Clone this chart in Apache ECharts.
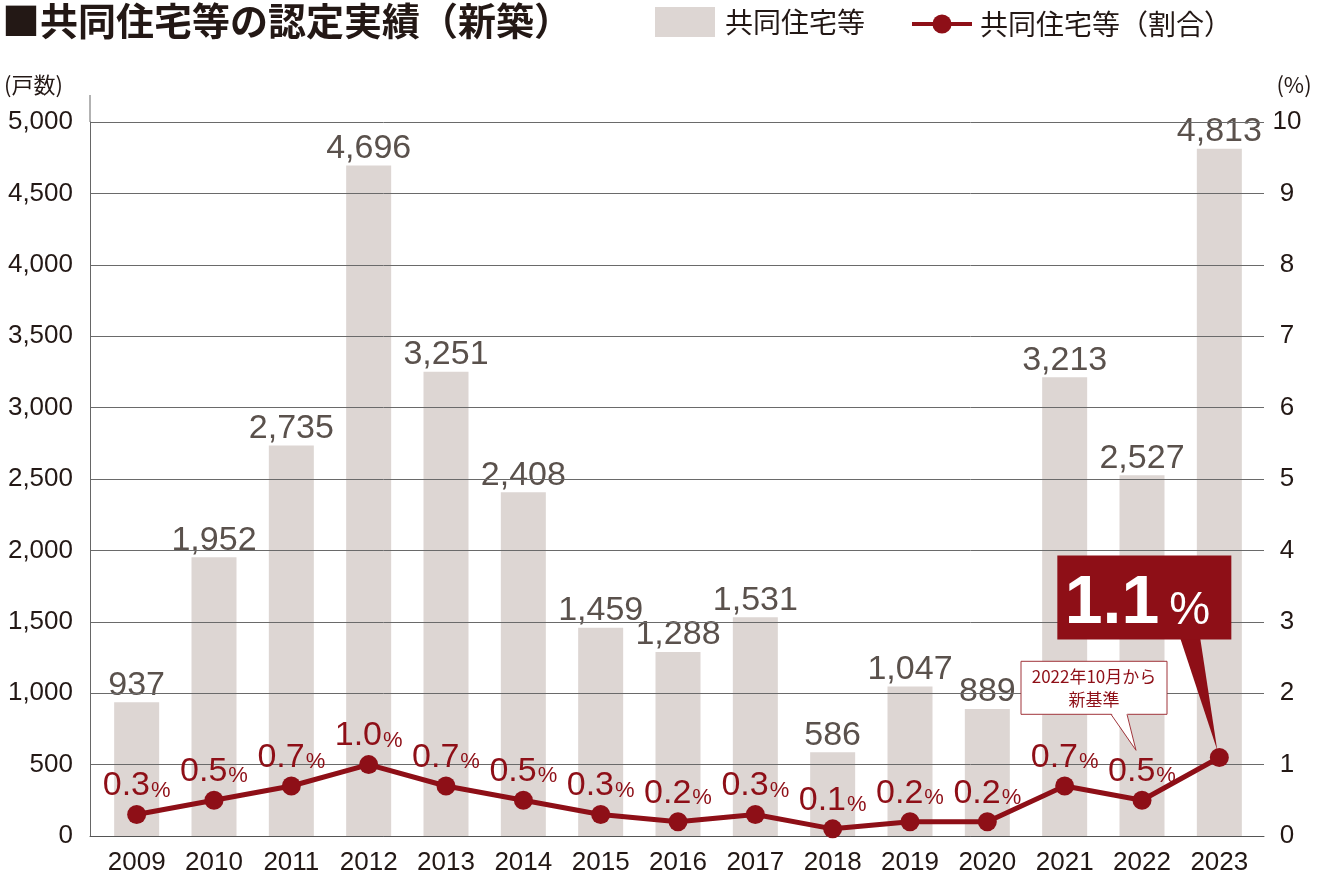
<!DOCTYPE html>
<html><head><meta charset="utf-8">
<script src="https://cdn.jsdelivr.net/npm/echarts@6/dist/echarts.min.js"></script>
<style>html,body{margin:0;padding:0;background:#fff}#c{width:1320px;height:884px}</style>
</head><body><div id="c"></div>
<script>
const years = ['2009','2010','2011','2012','2013','2014','2015','2016','2017','2018','2019','2020','2021','2022','2023'];
const units = [937,1952,2735,4696,3251,2408,1459,1288,1531,586,1047,889,3213,2527,4813];
const ratio = [0.3,0.5,0.7,1.0,0.7,0.5,0.3,0.2,0.3,0.1,0.2,0.2,0.7,0.5,1.1];
const titleText = '■共同住宅等の認定実績（新築）';
const barName = '共同住宅等';
const lineName = '共同住宅等（割合）';
const leftUnit = '(戸数)';
const rightUnit = '(%)';
const calloutBig = ['1.1', '%'];
const calloutSmall = '2022年10月から\n新基準';

const NUM = '"Liberation Sans", Arial, sans-serif';
const JP = '"Noto Sans CJK JP", "Noto Sans", sans-serif';
const RED = '#8e0f17';
const INK = '#231815';
const GRIDC = '#6a6a6a';
const last = years.length - 1;

const chart = echarts.init(document.getElementById('c'));
const option = {
  animation: false,
  backgroundColor: '#fff',
  title: {
    text: titleText, left: 0, top: 0, padding: 2,
    textStyle: {fontFamily: JP, fontWeight: 'bold', fontSize: 38, color: INK}
  },
  legend: [
    {data: [{name: barName, icon: 'rect'}], left: 655, top: 7, itemWidth: 60, itemHeight: 30, padding: 0,
     textStyle: {fontFamily: JP, fontSize: 28, color: INK, padding: [0, 0, 0, 5]}},
    {data: [lineName], left: 910, top: 10, itemWidth: 60, itemHeight: 24, padding: 0,
     lineStyle: {width: 4},
     textStyle: {fontFamily: JP, fontSize: 28, color: INK, padding: [0, 0, 0, 3]}}
  ],
  grid: [
    {left: 98, right: 62, top: 122, bottom: 48},
    {left: 90, right: 56, top: 122, bottom: 48}
  ],
  xAxis: [
    {type: 'category', gridIndex: 0, data: years,
     axisLine: {show: false}, axisTick: {show: false},
     axisLabel: {interval: 0, hideOverlap: false, fontFamily: NUM, fontSize: 26, color: INK, margin: 14}},
    {type: 'value', gridIndex: 1, min: 0, max: 1, z: 3,
     axisLine: {show: true, lineStyle: {color: '#555', width: 1}}, axisTick: {show: false},
     axisLabel: {show: false}, splitLine: {show: false}}
  ],
  yAxis: [
    {type: 'value', gridIndex: 0, min: 0, max: 5000, interval: 500, show: false},
    {type: 'value', gridIndex: 0, min: 0, max: 10, interval: 1, show: false},
    {type: 'value', gridIndex: 1, min: 0, max: 5000, interval: 500, position: 'left', z: 3,
     axisLine: {show: true, lineStyle: {color: '#666', width: 1}}, axisTick: {show: false},
     splitLine: {show: true, lineStyle: {color: GRIDC, width: 1}},
     axisLabel: {fontFamily: NUM, fontSize: 26, color: INK, margin: 17,
                 formatter: v => v.toLocaleString('en-US')}},
    {type: 'value', gridIndex: 1, min: 0, max: 10, interval: 1, position: 'right', z: 3,
     axisLine: {show: false}, axisTick: {show: false}, splitLine: {show: false},
     axisLabel: {fontFamily: NUM, fontSize: 26, color: INK, margin: 23, align: 'center'}}
  ],
  series: [
    {name: barName, type: 'bar', xAxisIndex: 0, yAxisIndex: 0, data: units, barWidth: 45, z: 2,
     itemStyle: {color: '#ddd6d3'},
     label: {show: true, position: 'top', distance: 0, fontFamily: NUM, fontSize: 34, color: '#5a514c',
             formatter: p => p.value.toLocaleString('en-US')}},
    {name: lineName, type: 'line', xAxisIndex: 0, yAxisIndex: 1, z: 5,
     data: ratio.map((v, i) => i === last ? {value: v, label: {show: false}} : v),
     symbol: 'circle', symbolSize: 19, lineStyle: {color: RED, width: 5}, itemStyle: {color: RED},
     label: {show: true, position: 'top', distance: 2,
             formatter: p => '{n|' + p.value.toFixed(1) + '}{u|%}',
             rich: {n: {fontFamily: NUM, fontSize: 34, color: RED},
                    u: {fontFamily: NUM, fontSize: 22, color: RED, padding: [9, 0, 0, 1]}}}}
  ]
};
chart.setOption(option);

const pB = chart.convertToPixel({seriesIndex: 1}, [last, ratio[last]]);
const pS = chart.convertToPixel({seriesIndex: 1}, [last - 1, ratio[last - 1]]);
const x0 = chart.convertToPixel({xAxisIndex: 1}, 0);
const yTop = chart.convertToPixel({yAxisIndex: 2}, 5000);
const xR = chart.convertToPixel({xAxisIndex: 1}, 1);

chart.setOption({
  graphic: [
    {type: 'line', z: 3, shape: {x1: x0, y1: yTop - 27, x2: x0, y2: yTop}, style: {stroke: '#666', lineWidth: 1}},
    {type: 'text', z: 10, x: x0 - 86, y: yTop - 37,
     style: {text: leftUnit, fontFamily: JP, fontSize: 22, fill: INK, verticalAlign: 'middle', align: 'left'}},
    {type: 'text', z: 10, x: xR + 30, y: yTop - 37,
     style: {text: rightUnit, fontFamily: JP, fontSize: 22, fill: INK, verticalAlign: 'middle', align: 'center'}},
    // big callout
    {type: 'polygon', z: 50, shape: {points: [[pB[0] - 41, pB[1] - 125], [pB[0] - 20, pB[1] - 125], [pB[0] - 2, pB[1] - 7]]},
     style: {fill: '#8e0f17'}},
    {type: 'rect', z: 50, shape: {x: pB[0] - 162, y: pB[1] - 202, width: 174, height: 84}, style: {fill: '#8e0f17'}},
    {type: 'text', z: 51, x: pB[0] - 60, y: pB[1] - 153,
     style: {text: calloutBig[0], fontFamily: NUM, fontWeight: 'bold', fontSize: 68, fill: '#fff', align: 'right', verticalAlign: 'middle'}},
    {type: 'text', z: 51, x: pB[0] - 50, y: pB[1] - 146,
     style: {text: calloutBig[1], fontFamily: NUM, fontSize: 46, fill: '#fff', align: 'left', verticalAlign: 'middle'}},
    // small callout
    {type: 'rect', z: 50, shape: {x: pS[0] - 121, y: pS[1] - 139, width: 146, height: 53},
     style: {fill: '#fff', stroke: '#a0353b', lineWidth: 1}},
    {type: 'polygon', z: 51, shape: {points: [[pS[0] - 31, pS[1] - 87.5], [pS[0] - 15, pS[1] - 87.5], [pS[0] - 6, pS[1] - 50]]},
     style: {fill: '#fff'}},
    {type: 'polyline', z: 52, shape: {points: [[pS[0] - 31, pS[1] - 86], [pS[0] - 6, pS[1] - 50], [pS[0] - 15, pS[1] - 86]]},
     style: {stroke: '#a0353b', lineWidth: 1, fill: null}},
    {type: 'text', z: 53, x: pS[0] - 48, y: pS[1] - 112,
     style: {text: calloutSmall, fontFamily: JP, fontSize: 17, lineHeight: 23, fill: RED, align: 'center', verticalAlign: 'middle'}}
  ]
});
</script></body></html>
